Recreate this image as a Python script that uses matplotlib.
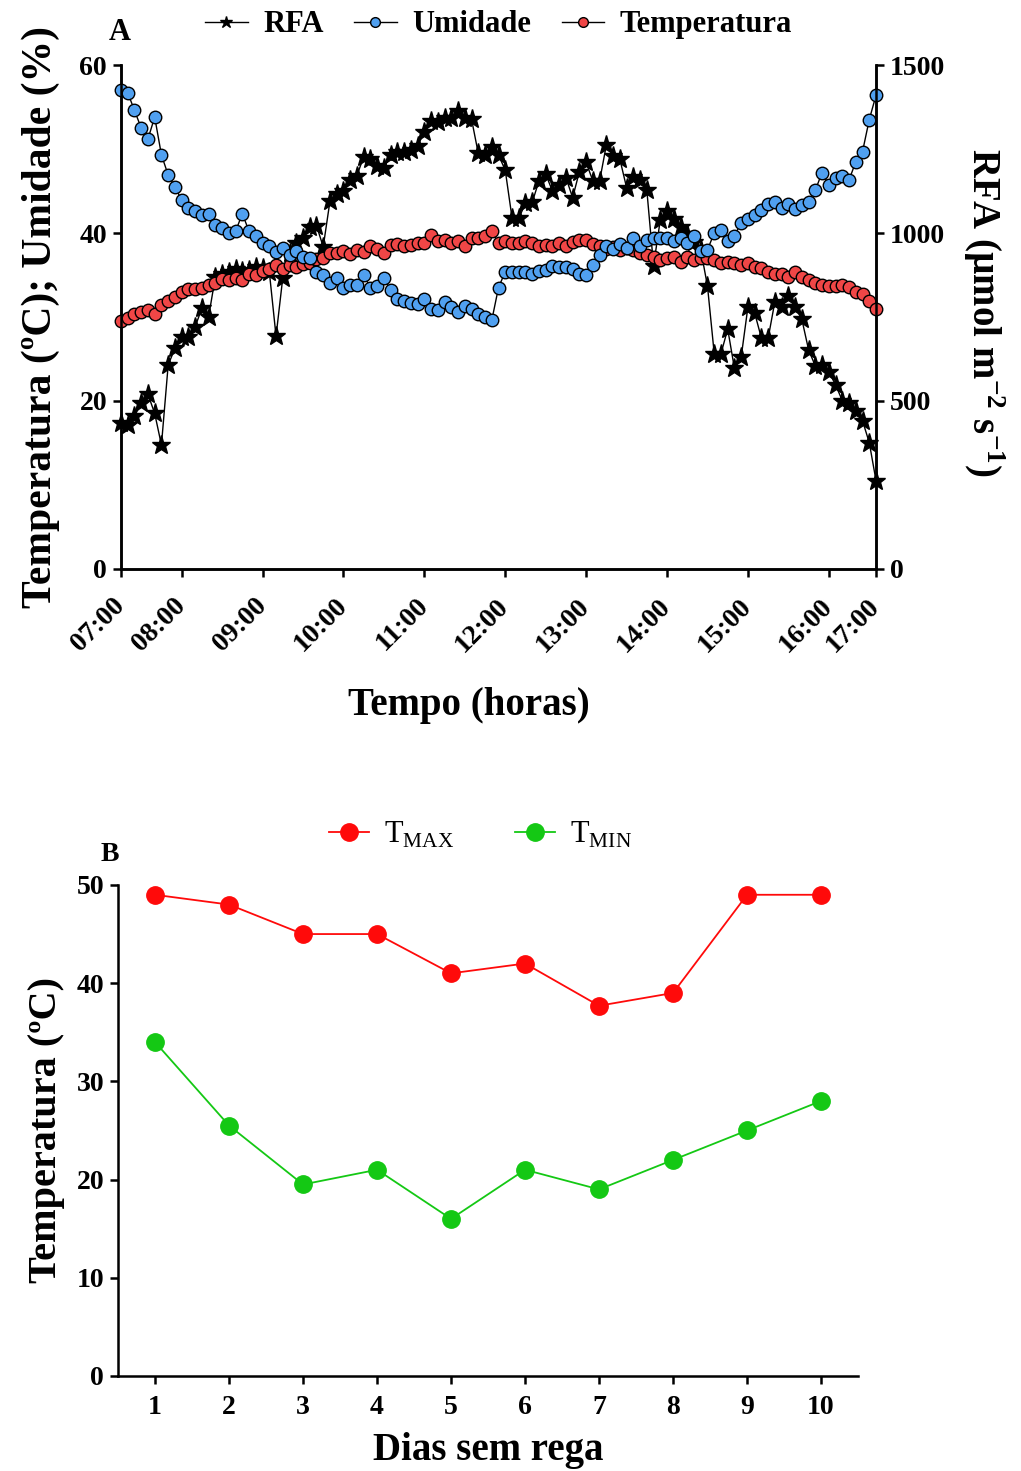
import numpy as np
import matplotlib
matplotlib.use("Agg")
from matplotlib import pyplot as plt
from matplotlib.lines import Line2D

#------------------------------------------------------------------------
#                           data
#------------------------------------------------------------------------

# panel A - one reading every ~5 min, x is the reading index
hourLabels = ["07:00", "08:00", "09:00", "10:00", "11:00", "12:00",
              "13:00", "14:00", "15:00", "16:00", "17:00"]
hourIndex = [0, 9, 21, 33, 45, 57, 69, 81, 93, 105, 112]

umidade = [57.0, 56.7, 54.6, 52.5, 51.2, 53.8, 49.3, 46.9, 45.5, 43.9,
           43.0, 42.6, 42.1, 42.3, 41.0, 40.6, 40.0, 40.2, 42.3, 40.2,
           39.6, 38.8, 38.4, 37.7, 38.2, 37.4, 37.8, 37.1, 37.0, 35.4,
           35.0, 34.1, 34.7, 33.5, 33.8, 33.8, 35.0, 33.5, 33.7, 34.6,
           33.2, 32.1, 31.9, 31.7, 31.5, 32.2, 31.0, 30.8, 31.8, 31.2,
           30.6, 31.3, 31.0, 30.4, 30.0, 29.6, 33.5, 35.4, 35.3, 35.3,
           35.4, 35.1, 35.5, 35.6, 36.1, 36.0, 36.0, 35.7, 35.1, 35.0,
           36.2, 37.4, 38.4, 38.1, 38.7, 38.2, 39.4, 38.4, 39.2, 39.4,
           39.4, 39.4, 39.0, 39.4, 38.8, 39.6, 37.8, 38.0, 40.0, 40.4,
           39.0, 39.7, 41.2, 41.7, 42.2, 42.7, 43.5, 43.7, 43.0, 43.5,
           42.9, 43.3, 43.7, 45.1, 47.2, 45.7, 46.5, 46.8, 46.3, 48.5,
           49.7, 53.5, 56.4]

temperatura = [29.5, 29.9, 30.3, 30.6, 30.8, 30.3, 31.4, 31.9, 32.4, 33.0,
               33.3, 33.3, 33.5, 33.8, 34.1, 34.5, 34.4, 34.6, 34.4, 35.1,
               35.0, 35.5, 35.7, 36.2, 35.7, 36.2, 35.9, 36.3, 36.4, 36.9,
               37.0, 37.6, 37.6, 37.9, 37.5, 38.0, 37.7, 38.4, 38.1, 37.6,
               38.6, 38.7, 38.5, 38.6, 38.8, 38.8, 39.8, 39.0, 39.2, 38.8,
               39.0, 38.4, 39.4, 39.4, 39.6, 40.2, 38.8, 39.0, 38.8, 38.8,
               39.0, 38.8, 38.5, 38.6, 38.5, 38.8, 38.5, 38.9, 39.2, 39.2,
               38.7, 38.4, 38.1, 38.3, 38.0, 38.2, 38.0, 37.6, 37.4, 37.1,
               36.8, 37.0, 37.1, 36.6, 37.2, 36.8, 37.0, 37.0, 36.8, 36.4,
               36.6, 36.4, 36.2, 36.4, 36.0, 35.8, 35.3, 35.1, 35.1, 34.8,
               35.4, 34.8, 34.4, 34.0, 33.8, 33.7, 33.7, 33.8, 33.6, 33.0,
               32.7, 31.9, 31.0]

rfa = [434, 429, 455, 493, 520, 463, 369, 607, 657, 689,
       689, 721, 776, 751, 870, 878, 885, 893, 887, 890,
       900, 895, 885, 693, 867, 940, 969, 986, 1019, 1022,
       959, 1095, 1116, 1125, 1158, 1171, 1227, 1220, 1200, 1194,
       1232, 1240, 1240, 1247, 1260, 1300, 1333, 1329, 1343, 1341,
       1363, 1341, 1339, 1237, 1232, 1257, 1232, 1187, 1046, 1044,
       1088, 1091, 1155, 1175, 1125, 1143, 1165, 1105, 1183, 1210,
       1155, 1155, 1262, 1230, 1220, 1135, 1168, 1158, 1128, 903,
       1039, 1065, 1042, 1019, 996, 972, 950, 842, 641, 641,
       714, 597, 631, 780, 762, 687, 687, 796, 779, 812,
       779, 743, 652, 604, 607, 587, 548, 501, 493, 471,
       441, 376, 263]

# panel B
dias = [1, 2, 3, 4, 5, 6, 7, 8, 9, 10]
tMax = [49, 48, 45, 45, 41, 42, 37.7, 39, 49, 49]
tMin = [34, 25.5, 19.5, 21, 16, 21, 19, 22, 25, 28]

#------------------------------------------------------------------------
#                           style
#------------------------------------------------------------------------

plt.rcParams['font.family'] = ['Liberation Serif', 'DejaVu Serif']
plt.rcParams['font.weight'] = 'bold'
plt.rcParams['mathtext.fontset'] = 'custom'
plt.rcParams['mathtext.rm'] = 'Liberation Serif:normal'
plt.rcParams['mathtext.bf'] = 'Liberation Serif:bold'
plt.rcParams['axes.linewidth'] = 1.8

blue = '#50a0f0'
red = '#f04646'
bRed = '#ff0a0a'
bGreen = '#14c814'

def styleAxis(ax, pad=4):
    ax.tick_params(width=1.8, length=6, labelsize=20, pad=pad)
    for lbl in ax.get_xticklabels() + ax.get_yticklabels():
        lbl.set_fontweight('bold')

fig = plt.figure(figsize=(10.21, 14.71), dpi=100)

#------------------------------------------------------------------------
#                           panel A
#------------------------------------------------------------------------

ax1 = fig.add_axes([0.1185, 0.6132, 0.7395, 0.3426])
ax2 = ax1.twinx()
ax1.set_zorder(ax2.get_zorder() + 1)
ax1.patch.set_visible(False)

x = np.arange(len(umidade))

ax2.plot(x, rfa, color='black', lw=1, marker='*', ms=14,
         markeredgecolor='black', clip_on=False)
ax1.plot(x, temperatura, color='black', lw=1, marker='o', ms=9,
         markerfacecolor=red, markeredgecolor='black', markeredgewidth=1, clip_on=False)
ax1.plot(x, umidade, color='black', lw=1, marker='o', ms=9,
         markerfacecolor=blue, markeredgecolor='black', markeredgewidth=1, clip_on=False)

ax1.set_xlim(0, len(umidade) - 1)
ax1.set_ylim(0, 60)
ax1.set_yticks([0, 20, 40, 60])
ax2.set_ylim(0, 1500)
ax2.set_yticks([0, 500, 1000, 1500])
ax1.set_xticks(hourIndex)
ax1.set_xticklabels(hourLabels, rotation=45, ha='right', va='center',
                    rotation_mode='anchor')
for ax in (ax1, ax2):
    ax.spines['top'].set_visible(False)
    styleAxis(ax)
ax1.tick_params(axis='x', pad=18)

ax1.set_xlabel('Tempo (horas)', fontsize=28, fontweight='bold')
ax1.xaxis.set_label_coords(0.461, -0.235)
ax1.set_ylabel('Temperatura (ºC); Umidade (%)', fontsize=30, fontweight='bold', labelpad=14)
ax2.set_ylabel(r'RFA (µmol m$^{\mathbf{-2}}$ s$^{\mathbf{-1}}$)', fontsize=28,
               fontweight='bold', rotation=270)
ax2.yaxis.set_label_coords(1.174, 0.51)

handlesA = [
    Line2D([], [], color='black', lw=1, marker='*', ms=9),
    Line2D([], [], color='black', lw=1, marker='o', ms=7, markerfacecolor=blue),
    Line2D([], [], color='black', lw=1, marker='o', ms=7, markerfacecolor=red),
]
ax1.legend(handlesA, ['RFA', 'Umidade', 'Temperatura'], ncol=3, frameon=False,
           loc='center', bbox_to_anchor=(0.5, 1.08), prop={'size': 22, 'weight': 'bold'},
           handlelength=1.4, handletextpad=0.5, columnspacing=1.0)

fig.text(0.1175, 0.9776, 'A', fontsize=22, fontweight='bold', ha='center', va='center')

#------------------------------------------------------------------------
#                           panel B
#------------------------------------------------------------------------

ax3 = fig.add_axes([0.1156, 0.0646, 0.7248, 0.3338])
ax3.plot(dias, tMax, color=bRed, lw=1.3, marker='o', ms=12.5, label=r'T$_{\mathrm{MAX}}$')
ax3.plot(dias, tMin, color=bGreen, lw=1.3, marker='o', ms=12.5, label=r'T$_{\mathrm{MIN}}$')
ax3.set_xlim(0.5, 10.5)
ax3.set_ylim(0, 50)
ax3.set_xticks(dias)
ax3.set_yticks([0, 10, 20, 30, 40, 50])
ax3.spines['top'].set_visible(False)
ax3.spines['right'].set_visible(False)
styleAxis(ax3)
ax3.tick_params(axis='x', pad=8)
ax3.set_xlabel('Dias sem rega', fontsize=28, fontweight='bold', labelpad=8)
ax3.set_ylabel('Temperatura (ºC)', fontsize=29, fontweight='bold', labelpad=8)
ax3.legend(ncol=2, frameon=False, loc='center', bbox_to_anchor=(0.49, 1.102),
           prop={'size': 22, 'weight': 'normal'}, handlelength=1.3,
           handletextpad=0.5, columnspacing=2.0)

fig.text(0.1077, 0.4188, 'B', fontsize=20, fontweight='bold', ha='center', va='center')

fig.savefig('out.png', dpi=100)
